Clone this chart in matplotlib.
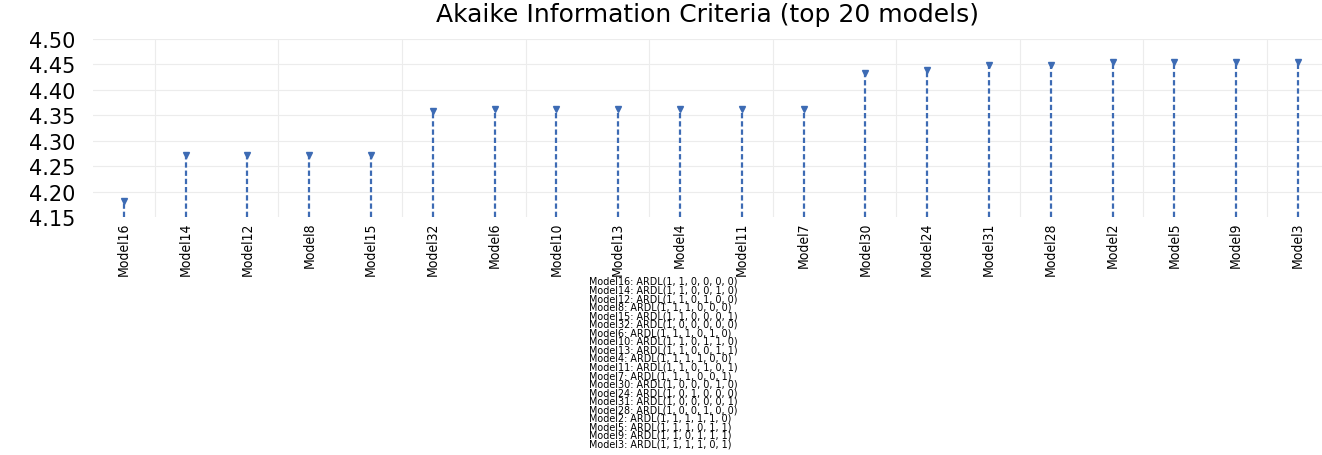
import matplotlib
matplotlib.use("Agg")
from matplotlib import pyplot as plt
import numpy as np

# 数据：模型名、AIC 值、模型说明
models = ["Model16", "Model14", "Model12", "Model8", "Model15", "Model32",
          "Model6", "Model10", "Model13", "Model4", "Model11", "Model7",
          "Model30", "Model24", "Model31", "Model28", "Model2", "Model5",
          "Model9", "Model3"]
aic = [4.182, 4.272, 4.272, 4.272, 4.272, 4.358,
       4.363, 4.363, 4.363, 4.363, 4.363, 4.363,
       4.434, 4.440, 4.449, 4.449, 4.454, 4.454,
       4.454, 4.454]
specs = ["ARDL(1, 1, 0, 0, 0, 0)", "ARDL(1, 1, 0, 0, 1, 0)", "ARDL(1, 1, 0, 1, 0, 0)",
         "ARDL(1, 1, 1, 0, 0, 0)", "ARDL(1, 1, 0, 0, 0, 1)", "ARDL(1, 0, 0, 0, 0, 0)",
         "ARDL(1, 1, 1, 0, 1, 0)", "ARDL(1, 1, 0, 1, 1, 0)", "ARDL(1, 1, 0, 0, 1, 1)",
         "ARDL(1, 1, 1, 1, 0, 0)", "ARDL(1, 1, 0, 1, 0, 1)", "ARDL(1, 1, 1, 0, 0, 1)",
         "ARDL(1, 0, 0, 0, 1, 0)", "ARDL(1, 0, 1, 0, 0, 0)", "ARDL(1, 0, 0, 0, 0, 1)",
         "ARDL(1, 0, 0, 1, 0, 0)", "ARDL(1, 1, 1, 1, 1, 0)", "ARDL(1, 1, 1, 0, 1, 1)",
         "ARDL(1, 1, 0, 1, 1, 1)", "ARDL(1, 1, 1, 1, 0, 1)"]
yticks = [4.15, 4.20, 4.25, 4.30, 4.35, 4.40, 4.45, 4.50]

blue = "#3d6bb4"
grid = "#ececec"
W, H = 1322, 456

fig = plt.figure(figsize=(W / 100, H / 100), dpi=100)
ax = fig.add_axes([93 / W, 1 - 218 / H, 1 - 93 / W, (218 - 40) / H])

x = np.arange(len(models))
ymin = 4.15
# 虚线竖条 + 顶部小三角
ax.vlines(x, ymin, aic, colors=blue, linestyles=(0, (2.4, 1.3)), linewidth=1.6, zorder=3)
ax.plot(x, aic, linestyle="none", marker="v", markersize=4, color=blue, zorder=4)

ax.set_ylim(4.15, 4.50)
ax.set_xlim(-0.5, 19.39)
ax.set_yticks(yticks)
ax.set_yticklabels(["%.2f" % v for v in yticks], fontsize=15, family="DejaVu Sans")
ax.set_xticks(x)
ax.set_xticklabels(models, rotation=90, fontsize=10, family="DejaVu Sans",
                   fontstretch="condensed")
ax.tick_params(axis="both", length=0)
ax.tick_params(axis="y", pad=13)
ax.tick_params(axis="x", pad=3)

# 网格：水平每个刻度，竖直每两个模型一条
for yv in yticks[1:]:
    ax.axhline(yv, color=grid, linewidth=0.8, zorder=0)
for gx in np.arange(0.5, len(models), 2):
    ax.axvline(gx, color=grid, linewidth=0.8, zorder=0)
for s in ax.spines.values():
    s.set_visible(False)

fig.text(0.535, 1 - 15 / H, "Akaike Information Criteria (top 20 models)",
         ha="center", va="center", fontsize=18, family="DejaVu Sans")

# 底部模型说明
y0, dy = 282, 8.55
for i, (m, s) in enumerate(zip(models, specs)):
    fig.text(589 / W, 1 - (y0 + i * dy) / H, m + ": " + s,
             ha="left", va="center", fontsize=6.9, family="DejaVu Sans")

fig.savefig("out.png", dpi=100)
